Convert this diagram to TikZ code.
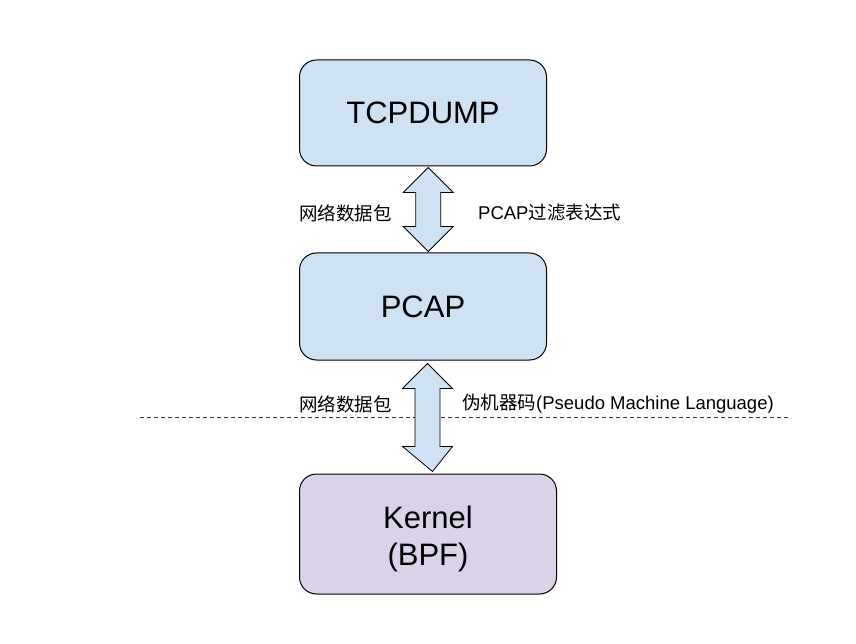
\documentclass[tikz,border=0pt]{standalone}
\usepackage{fontspec}
\setmainfont{Liberation Sans}
\newfontfamily\cjk{Noto Sans CJK SC}
\usetikzlibrary{calc}
\definecolor{boxblue}{HTML}{CFE2F3}
\definecolor{boxpurple}{HTML}{D9D2E9}
\begin{document}
\begin{tikzpicture}[x=1pt,y=-1pt,
  box/.style={draw=black, line width=1pt, rounded corners=17pt, inner sep=0pt,
    font=\fontsize{31}{37}\selectfont, align=center},
  lbl/.style={font=\fontsize{18.5}{22}\selectfont, inner sep=0pt},
  dbl/.style={draw=black, line width=0.8pt, fill=boxblue, line join=miter},
  sep/.style={draw=black!80, dash pattern=on 4pt off 3pt, line width=0.8pt}]
\fill[white] (0,0) rectangle (856,644);
\useasboundingbox (0,0) rectangle (856,644);
\node[box, fill=boxblue, minimum width=247pt, minimum height=106pt] (tcp) at (423,113) {TCPDUMP};
\node[box, fill=boxblue, minimum width=247pt, minimum height=107pt] (pcap) at (423,306.5) {PCAP};
\node[box, fill=boxpurple, minimum width=257pt, minimum height=120pt] (kern) at (428,534)
  {\raisebox{-6pt}[\height][\depth]{\begin{tabular}{@{}c@{}}Kernel\\(BPF)\end{tabular}}};
\coordinate (dl) at (140,417);
\coordinate (dr) at (790,417);
\draw[sep] (dl) -- (dr);
\draw[dbl] let \p1=([xshift=5.3pt,yshift=-1pt]tcp.south), \p2=([xshift=5.3pt,yshift=1pt]pcap.north) in
  (\p1) -- (\x1+25pt,\y1-25pt) -- (\x1+12.5pt,\y1-25pt) -- (\x1+12.5pt,\y2+25pt) -- (\x1+25pt,\y2+25pt)
  -- (\p2) -- (\x1-25pt,\y2+25pt) -- (\x1-12.5pt,\y2+25pt) -- (\x1-12.5pt,\y1-25pt) -- (\x1-25pt,\y1-25pt) -- cycle;
\draw[dbl] let \p1=([xshift=4.5pt,yshift=-3pt]pcap.south), \p2=([xshift=4.5pt,yshift=2pt]kern.north) in
  (\p1) -- (\x1+25pt,\y1-25pt) -- (\x1+12.5pt,\y1-25pt) -- (\x1+12.5pt,\y2+25pt) -- (\x1+25pt,\y2+25pt)
  -- (\p2) -- (\x1-25pt,\y2+25pt) -- (\x1-12.5pt,\y2+25pt) -- (\x1-12.5pt,\y1-25pt) -- (\x1-25pt,\y1-25pt) -- cycle;
\node[lbl] (l1) at (345.5,213) {{\cjk 网络数据包}};
\node[lbl, anchor=west] (l2) at (478,213) {PCAP{\cjk 过滤表达式}};
\node[lbl] (l3) at (345.5,404) {{\cjk 网络数据包}};
\node[lbl, anchor=west] (l4) at (462,404) {{\cjk 伪机器码}(Pseudo Machine Language)};
\end{tikzpicture}
\end{document}
